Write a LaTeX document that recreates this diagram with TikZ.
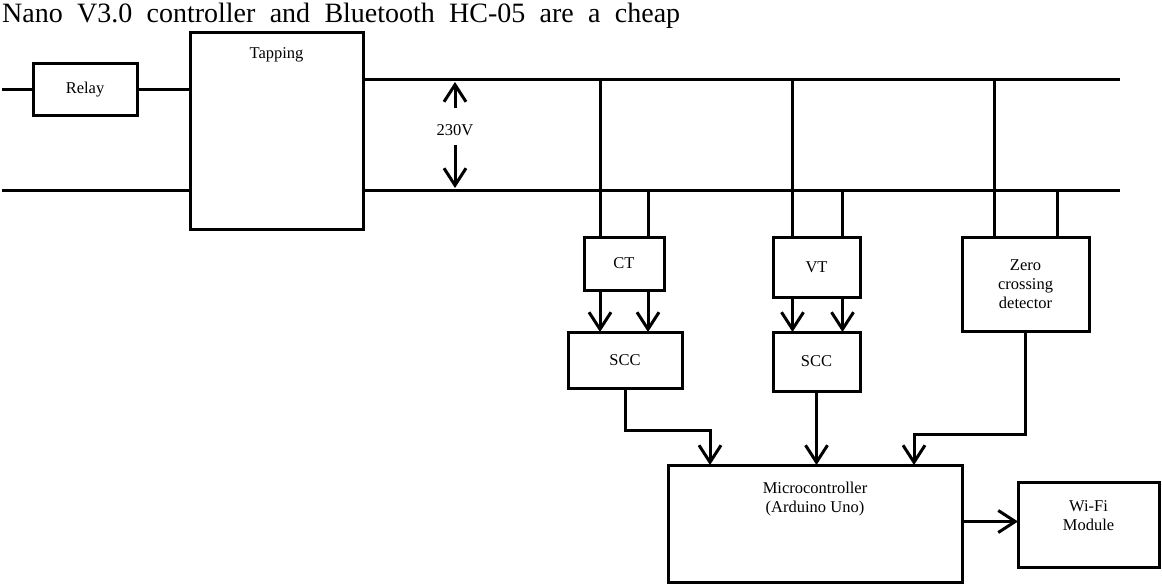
\documentclass[tikz,border=0pt]{standalone}
\usepackage{fontspec}
\setmainfont{Liberation Serif}
\usetikzlibrary{arrows.meta}

\begin{document}
\begin{tikzpicture}[x=1pt, y=1pt,
    box/.style={draw, line width=3pt, inner sep=0pt, outer sep=0pt, align=center, font=\fontsize{16.5}{19}\selectfont},
    lbl/.style={inner sep=0pt, align=center, font=\fontsize{16.5}{19}\selectfont},
    wire/.style={line width=3pt},
    arr/.style={line width=3pt, -{Straight Barb[length=17pt, width=22pt]}}]

    \useasboundingbox (0,0) rectangle (1162,-586);

    % Text line left over from the page
    \node[anchor=base west, inner sep=0pt, font=\fontsize{28}{32}\selectfont] (caption) at (2,-23)
        {\hbox to 678pt{Nano\hfill V3.0\hfill controller\hfill and\hfill Bluetooth\hfill HC-05\hfill are\hfill a\hfill cheap}};

    % Draw the blocks
    \node[box, minimum width=104pt, minimum height=51pt] (relay) at (85,-89.5) {Relay};
    \node[box, minimum width=173pt, minimum height=196pt] (tapping) at (276.5,-131) {};
    \node[lbl] (taptext) at (276.5,-55) {Tapping};
    \node[box, minimum width=80pt, minimum height=53pt] (ct) at (624,-263.5) {CT};
    \node[box, minimum width=114pt, minimum height=56pt] (scca) at (625,-360) {SCC};
    \node[box, minimum width=87pt, minimum height=60pt] (vt) at (816.5,-267) {VT};
    \node[box, minimum width=87pt, minimum height=59pt] (sccb) at (816.5,-361.5) {SCC};
    \node[box, minimum width=127pt, minimum height=94pt] (zcd) at (1025.5,-284) {Zero\\crossing\\detector};
    \node[box, minimum width=294pt, minimum height=117pt] (micro) at (815,-523.5) {};
    \node[lbl] (microtext) at (815,-499) {Microcontroller\\(Arduino Uno)};
    \node[box, minimum width=141pt, minimum height=85pt] (wifi) at (1088.5,-524.5) {};
    \node[lbl] (wifitext) at (1088.5,-516) {Wi-Fi\\Module};

    % Ends of the lines
    \coordinate (linein) at (2,-89.5);
    \coordinate (botin) at (2,-190);
    \coordinate (topend) at (1120,-80);
    \coordinate (botend) at (1120,-190);

    % Draw the supply lines
    \draw[wire] (linein) -- (relay.west);
    \draw[wire] (relay.east) -- (relay.east -| tapping.west);
    \draw[wire] (botin) -- (botin -| tapping.west);
    \draw[wire] (tapping.east |- topend) -- (topend);
    \draw[wire] (tapping.east |- botend) -- (botend);

    % Voltage between the lines
    \node[lbl] (volt) at (455,-130) {230V};
    \draw[arr] ([yshift=16pt]volt.north) -- ([yshift=-2pt]volt.north |- topend);
    \draw[arr] ([yshift=-9pt]volt.south) -- ([yshift=2pt]volt.south |- botend);

    % Taps to CT, VT and zero crossing detector
    \draw[wire] ([xshift=-24pt]ct.north) -- ([xshift=-24pt]ct.north |- topend);
    \draw[wire] ([xshift=24pt]ct.north) -- ([xshift=24pt]ct.north |- botend);
    \draw[wire] ([xshift=-24pt]vt.north) -- ([xshift=-24pt]vt.north |- topend);
    \draw[wire] ([xshift=26pt]vt.north) -- ([xshift=26pt]vt.north |- botend);
    \draw[wire] ([xshift=-31.5pt]zcd.north) -- ([xshift=-31.5pt]zcd.north |- topend);
    \draw[wire] ([xshift=31.5pt]zcd.north) -- ([xshift=31.5pt]zcd.north |- botend);

    % Arrows into the SCC blocks
    \draw[arr] ([xshift=-24pt]ct.south) -- ([xshift=-24pt]ct.south |- scca.north);
    \draw[arr] ([xshift=24pt]ct.south) -- ([xshift=24pt]ct.south |- scca.north);
    \draw[arr] ([xshift=-24pt]vt.south) -- ([xshift=-24pt]vt.south |- sccb.north);
    \draw[arr] ([xshift=26pt]vt.south) -- ([xshift=26pt]vt.south |- sccb.north);

    % Arrows into the microcontroller
    \draw[arr] (scca.south) -- ++(0,-42) -| ([xshift=-105pt]micro.north);
    \draw[arr] (sccb.south) -- (sccb.south |- micro.north);
    \draw[arr] (zcd.south) -- ++(0,-103) -| ([xshift=99pt]micro.north);
    \draw[arr] ([yshift=2pt]micro.east) -- ([yshift=2pt]micro.east -| wifi.west);

\end{tikzpicture}
\end{document}
